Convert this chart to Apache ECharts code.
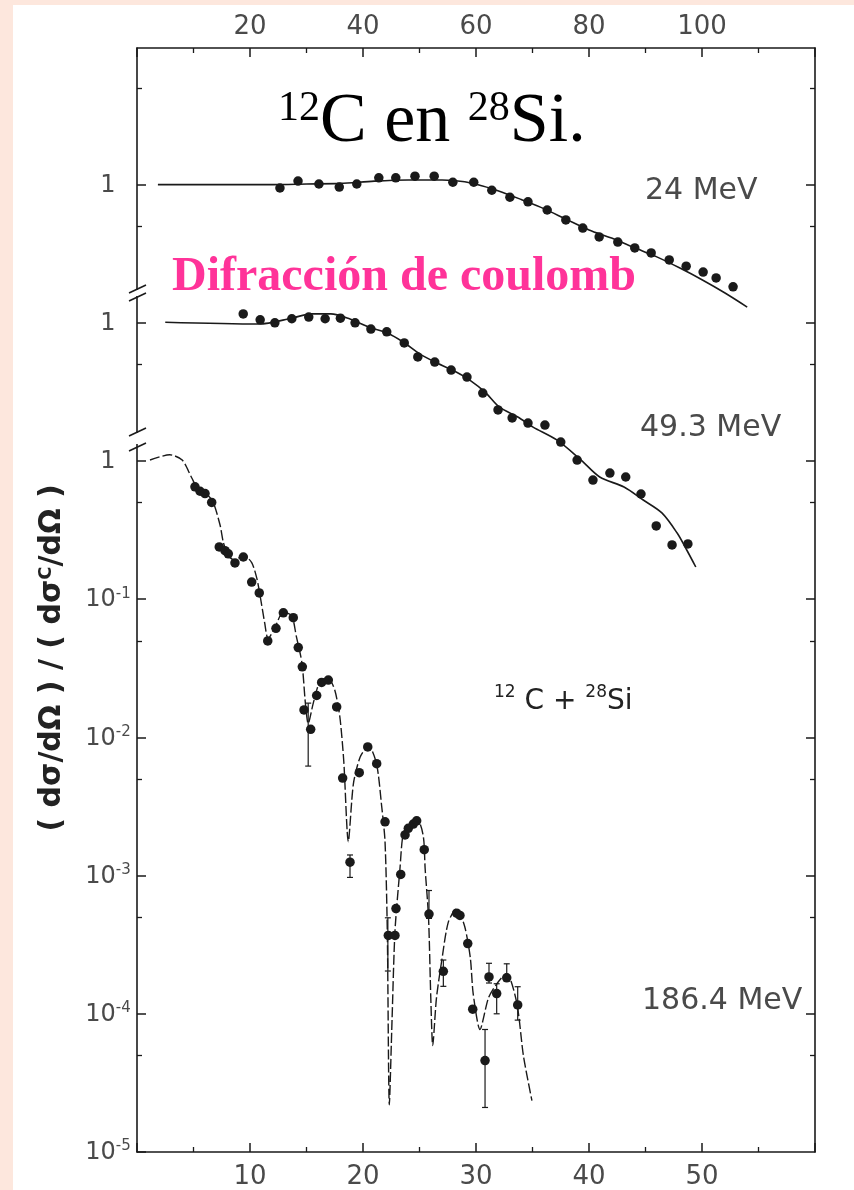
<!DOCTYPE html>
<html>
<head>
<meta charset="utf-8">
<title>12C en 28Si</title>
<script src="https://cdn.jsdelivr.net/npm/echarts@6/dist/echarts.min.js"></script>
<style>
  html, body { margin: 0; padding: 0; background: #fde7dd; }
  #chart { width: 854px; height: 1190px; }
</style>
</head>
<body>
<div id="chart"></div>
<script>
// 24 MeV (top angle scale), ratio to Rutherford
var curve24 = [[3.7, 1.0], [24, 1.0], [30, 1.01], [36, 1.02], [42, 1.06], [48, 1.08], [54, 1.08], [58, 1.05],
  [61, 0.98], [64, 0.9], [68, 0.78], [72, 0.67], [76, 0.56], [80, 0.47], [84, 0.41], [88, 0.35], [92, 0.30],
  [96, 0.25], [100, 0.205], [104, 0.165], [108, 0.13]]
var dots24 = [[25.3, 0.945], [28.5, 1.06], [32.2, 1.01], [35.8, 0.96], [38.9, 1.01], [42.8, 1.12], [45.8, 1.12],
  [49.2, 1.15], [52.6, 1.15], [55.9, 1.04], [59.6, 1.04], [62.8, 0.91], [66.0, 0.81], [69.2, 0.75], [72.6, 0.655],
  [75.9, 0.555], [78.9, 0.485], [81.8, 0.418], [85.1, 0.384], [88.1, 0.348], [91.0, 0.32], [94.2, 0.285],
  [97.2, 0.257], [100.2, 0.233], [102.5, 0.211], [105.5, 0.182]]

// 49.3 MeV (top angle scale)
var curve49 = [[5.0, 1.01], [21.6, 0.98], [27.4, 1.08], [30.8, 1.16], [34.3, 1.16], [37.7, 1.065], [41.1, 0.93],
  [44.4, 0.84], [47.1, 0.726], [50.1, 0.594], [53.1, 0.512], [56.5, 0.44], [58.9, 0.385], [61.6, 0.315],
  [64.1, 0.246], [67.4, 0.208], [70.1, 0.176], [74.3, 0.142], [78.6, 0.1015], [81.9, 0.0766], [86.2, 0.0648],
  [89.6, 0.0522], [92.9, 0.0421], [95.6, 0.0301], [97.3, 0.0227], [98.9, 0.0171]]
var dots49 = [[18.8, 1.16], [21.8, 1.05], [24.4, 1.0], [27.4, 1.07], [30.4, 1.10], [33.3, 1.07], [36.0, 1.08],
  [38.6, 1.0], [41.4, 0.90], [44.2, 0.86], [47.3, 0.715], [49.7, 0.566], [52.7, 0.52], [55.6, 0.455],
  [58.4, 0.405], [61.2, 0.31], [63.9, 0.234], [66.4, 0.205], [69.2, 0.188], [72.2, 0.182], [75.0, 0.137],
  [77.9, 0.1015], [80.7, 0.0728], [83.7, 0.0818], [86.5, 0.0766], [89.2, 0.0577], [91.9, 0.0339],
  [94.7, 0.0247], [97.5, 0.0251]]

// 186.4 MeV (bottom angle scale)
var curve186 = [[1.15, 1.017], [2.9, 1.11], [4.0, 1.017], [4.85, 0.753], [5.4, 0.627], [6.2, 0.573], [6.75, 0.501],
  [7.35, 0.344], [7.65, 0.256], [8.1, 0.205], [8.7, 0.191], [9.4, 0.209], [10.15, 0.184], [10.6, 0.142],
  [10.9, 0.1055], [11.3, 0.0673], [11.6, 0.0518], [12.2, 0.0624], [12.95, 0.081], [13.7, 0.0755], [14.1, 0.0538],
  [14.6, 0.0345], [14.9, 0.0177], [15.15, 0.0126], [15.6, 0.0177], [16.2, 0.0256], [16.9, 0.0269], [17.5, 0.022],
  [17.95, 0.0141], [18.3, 0.0067], [18.7, 0.00176], [19.15, 0.00461], [19.75, 0.00721], [20.5, 0.00869],
  [21.2, 0.00645], [21.65, 0.00319], [21.95, 0.00176], [22.15, 0.000397], [22.33, 0.000022], [22.57, 0.00009],
  [22.83, 0.000397], [23.27, 0.00112], [23.57, 0.00203], [24.15, 0.00236], [24.9, 0.00245], [25.35, 0.00189],
  [25.5, 0.00112], [25.8, 0.000496], [26.0, 0.00013], [26.17, 0.000059], [26.5, 0.00013], [26.95, 0.000237],
  [27.55, 0.000461], [28.3, 0.000577], [29.0, 0.000428], [29.5, 0.000253], [29.75, 0.00014], [30.35, 0.000077],
  [31.1, 0.00013], [31.8, 0.000163], [32.7, 0.000196], [33.6, 0.000121], [34.2, 0.0000495], [34.95, 0.0000235]]
var dots186 = [[5.13, 0.65], [5.58, 0.604], [6.02, 0.581], [6.61, 0.501], [7.28, 0.239], [7.79, 0.2245],
  [8.08, 0.213], [8.67, 0.183], [9.41, 0.202], [10.15, 0.133], [10.82, 0.111], [11.57, 0.0499], [12.3, 0.0615],
  [12.95, 0.0797], [13.83, 0.0735], [14.27, 0.0447], [14.63, 0.0324], [14.78, 0.0158], [15.37, 0.01145],
  [15.9, 0.0201], [16.34, 0.025], [16.93, 0.026], [17.67, 0.0166], [18.2, 0.00508], [18.85, 0.00125],
  [19.67, 0.00556], [20.42, 0.00853], [21.21, 0.00645], [21.95, 0.00245], [22.24, 0.000369], [22.83, 0.000369],
  [22.92, 0.000577], [23.34, 0.00102], [23.72, 0.00197], [24.01, 0.0022], [24.45, 0.00236], [24.75, 0.00249],
  [25.42, 0.00154], [25.84, 0.000527], [27.11, 0.000203], [28.29, 0.000535], [28.58, 0.000515], [29.27, 0.000322],
  [29.71, 0.000108], [30.8, 0.0000459], [31.15, 0.000185], [31.83, 0.00014], [32.72, 0.000182], [33.69, 0.000116]]
// [angle, low, high]
var errors186 = [[15.15, 0.0062, 0.0177], [18.85, 0.00097, 0.00141], [22.2, 0.000204, 0.000495],
  [25.84, 0.00049, 0.00078], [27.11, 0.000158, 0.000245], [30.8, 0.000021, 0.000077],
  [31.15, 0.000167, 0.000232], [31.83, 0.0001, 0.000165], [32.72, 0.00018, 0.00023], [33.69, 0.00009, 0.000157]]

// tick values (186.4 MeV axis scale unless noted)
var panelOne = [1]
var decades = [1, 0.1, 0.01, 0.001, 0.0001, 0.00001]
var rightMajor = [100, 10, 1, 0.1, 0.01, 0.001, 0.0001]
var halfDecades = [500, 50, 5, 0.5, 0.05, 0.005, 0.0005, 0.00005]

var ink = '#1a1a1a'
var grey = '#4a4a4a'
var labelFont = 'DejaVu Sans'

function decadeLabel (v) {
  var e = Math.round(Math.log(v) / Math.LN10)
  return e === 0 ? '{b|1}' : '{b|10}{s|' + e + '}'
}
var labelRich = {
  b: {fontSize: 24, fontFamily: labelFont, color: grey, lineHeight: 26, verticalAlign: 'bottom'},
  s: {fontSize: 15, fontFamily: labelFont, color: grey, lineHeight: 15, verticalAlign: 'top'}
}

function logAxis (min, max, position) {
  return {
    type: 'log',
    logBase: 10,
    min: min,
    max: max,
    position: position,
    splitLine: {show: false},
    axisLine: {show: false},
    axisTick: {show: false},
    axisLabel: {show: false}
  }
}

// every panel keeps the same decade size; they are shifted by whole decades
var yTop = logAxis(1e-7, 9.736, 'left')
yTop.axisTick = {show: true, inside: true, length: 9, customValues: panelOne, lineStyle: {color: ink, width: 1.5}}
yTop.axisLabel = {show: true, customValues: panelOne, formatter: decadeLabel, rich: labelRich, align: 'center', margin: 29}

var yMid = logAxis(1e-6, 97.36, 'left')
yMid.axisTick = {show: true, inside: true, length: 9, customValues: panelOne, lineStyle: {color: ink, width: 1.5}}
yMid.axisLabel = {show: true, customValues: panelOne, formatter: decadeLabel, rich: labelRich, align: 'center', margin: 29}

var yLow = logAxis(1e-5, 973.6, 'left')
yLow.axisLine = {show: true, lineStyle: {color: ink, width: 1.6}}
yLow.axisTick = {show: true, inside: true, length: 9, customValues: decades, lineStyle: {color: ink, width: 1.5}}
yLow.axisLabel = {show: true, customValues: decades, formatter: decadeLabel, rich: labelRich, align: 'center', margin: 29}

var yLeftMinor = logAxis(1e-5, 973.6, 'left')
yLeftMinor.axisTick = {show: true, inside: true, length: 5, customValues: halfDecades, lineStyle: {color: ink, width: 1.3}}

var yRight = logAxis(1e-5, 973.6, 'right')
yRight.axisLine = {show: true, lineStyle: {color: ink, width: 1.6}}
yRight.axisTick = {show: true, inside: true, length: 9, customValues: rightMajor, lineStyle: {color: ink, width: 1.5}}

var yRightMinor = logAxis(1e-5, 973.6, 'right')
yRightMinor.axisTick = {show: true, inside: true, length: 5, customValues: halfDecades, lineStyle: {color: ink, width: 1.3}}

function angleAxis (position, max, step) {
  return {
    type: 'value',
    position: position,
    min: 0,
    max: max,
    interval: step,
    axisLine: {show: true, onZero: false, lineStyle: {color: ink, width: 1.6}},
    axisTick: {show: true, inside: true, length: 9, lineStyle: {color: ink, width: 1.5}},
    minorTick: {show: true, splitNumber: 2, length: 5, lineStyle: {color: ink, width: 1.3}},
    splitLine: {show: false},
    axisLabel: {
      fontSize: 26,
      fontFamily: labelFont,
      color: grey,
      margin: position === 'top' ? 8 : 12,
      formatter: function (v) { return (v === 0 || v === max) ? '' : String(v) }
    }
  }
}

var chart = echarts.init(document.getElementById('chart'))
chart.setOption({
  backgroundColor: '#ffffff',
  animation: false,
  grid: {left: 137, right: 39, top: 48, bottom: 38},
  xAxis: [angleAxis('top', 120, 20), angleAxis('bottom', 60, 10)],
  yAxis: [yTop, yMid, yLow, yLeftMinor, yRight, yRightMinor],
  series: [
    {
      name: '24 MeV',
      type: 'line',
      xAxisIndex: 0,
      yAxisIndex: 0,
      data: curve24,
      smooth: 0.3,
      showSymbol: false,
      lineStyle: {color: ink, width: 1.6}
    },
    {
      name: '24 MeV datos',
      type: 'scatter',
      xAxisIndex: 0,
      yAxisIndex: 0,
      data: dots24,
      symbolSize: 9.5,
      itemStyle: {color: ink, opacity: 1}
    },
    {
      name: '49.3 MeV',
      type: 'line',
      xAxisIndex: 0,
      yAxisIndex: 1,
      data: curve49,
      smooth: 0.3,
      showSymbol: false,
      lineStyle: {color: ink, width: 1.6}
    },
    {
      name: '49.3 MeV datos',
      type: 'scatter',
      xAxisIndex: 0,
      yAxisIndex: 1,
      data: dots49,
      symbolSize: 9.5,
      itemStyle: {color: ink, opacity: 1}
    },
    {
      name: '186.4 MeV',
      type: 'line',
      xAxisIndex: 1,
      yAxisIndex: 2,
      data: curve186,
      smooth: 0.25,
      showSymbol: false,
      lineStyle: {color: ink, width: 1.4, type: [10, 3]}
    },
    {
      name: '186.4 MeV errores',
      type: 'custom',
      xAxisIndex: 1,
      yAxisIndex: 2,
      data: errors186,
      encode: {x: 0, y: [1, 2]},
      renderItem: function (params, api) {
        var lo = api.coord([api.value(0), api.value(1)])
        var hi = api.coord([api.value(0), api.value(2)])
        var st = {stroke: ink, lineWidth: 1.2}
        return {
          type: 'group',
          children: [
            {type: 'line', shape: {x1: lo[0], y1: lo[1], x2: hi[0], y2: hi[1]}, style: st},
            {type: 'line', shape: {x1: lo[0] - 3, y1: lo[1], x2: lo[0] + 3, y2: lo[1]}, style: st},
            {type: 'line', shape: {x1: hi[0] - 3, y1: hi[1], x2: hi[0] + 3, y2: hi[1]}, style: st}
          ]
        }
      }
    },
    {
      name: '186.4 MeV datos',
      type: 'scatter',
      xAxisIndex: 1,
      yAxisIndex: 2,
      data: dots186,
      symbolSize: 9.5,
      itemStyle: {color: ink, opacity: 1}
    }
  ],
  graphic: [
    // page frame
    {type: 'rect', shape: {x: 0, y: 0, width: 854, height: 5}, style: {fill: '#fde7dd'}, z: 100},
    {type: 'rect', shape: {x: 0, y: 0, width: 13, height: 1190}, style: {fill: '#fde7dd'}, z: 100},
    // axis breaks on the left spine
    {type: 'rect', shape: {x: 133, y: 290, width: 9, height: 6}, style: {fill: '#ffffff'}, z: 100},
    {type: 'line', shape: {x1: 129, y1: 293, x2: 146, y2: 285}, style: {stroke: ink, lineWidth: 1.6}, z: 101},
    {type: 'line', shape: {x1: 129, y1: 301, x2: 146, y2: 293}, style: {stroke: ink, lineWidth: 1.6}, z: 101},
    {type: 'rect', shape: {x: 133, y: 433, width: 9, height: 11}, style: {fill: '#ffffff'}, z: 100},
    {type: 'line', shape: {x1: 129, y1: 436, x2: 146, y2: 428}, style: {stroke: ink, lineWidth: 1.6}, z: 101},
    {type: 'line', shape: {x1: 129, y1: 451, x2: 146, y2: 443}, style: {stroke: ink, lineWidth: 1.6}, z: 101},
    // titles and annotations
    {
      type: 'text', x: 278, y: 88, z: 102,
      style: {
        text: '{s|12}{b|C en }{s|28}{b|Si.}',
        rich: {
          b: {fontSize: 70, fontFamily: 'Liberation Serif', fill: '#000', lineHeight: 70, verticalAlign: 'bottom'},
          s: {fontSize: 42, fontFamily: 'Liberation Serif', fill: '#000', lineHeight: 42, verticalAlign: 'top'}
        }
      }
    },
    {
      type: 'text', x: 172, y: 278, z: 102,
      style: {
        text: 'Difracción de coulomb',
        fontSize: 48, fontWeight: 'bold', fontFamily: 'Liberation Serif',
        fill: '#ff3399', verticalAlign: 'middle'
      }
    },
    {type: 'text', x: 645, y: 191, z: 102, style: {text: '24 MeV', fontSize: 30, fontFamily: labelFont, fill: grey, verticalAlign: 'middle'}},
    {type: 'text', x: 640, y: 428, z: 102, style: {text: '49.3 MeV', fontSize: 30, fontFamily: labelFont, fill: grey, verticalAlign: 'middle'}},
    {type: 'text', x: 642, y: 1001, z: 102, style: {text: '186.4 MeV', fontSize: 30, fontFamily: labelFont, fill: grey, verticalAlign: 'middle'}},
    {
      type: 'text', x: 494, y: 684, z: 102,
      style: {
        text: '{s|12}{b| C + }{s|28}{b|Si}',
        rich: {
          b: {fontSize: 28, fontFamily: labelFont, fill: '#222', lineHeight: 32, verticalAlign: 'bottom'},
          s: {fontSize: 17, fontFamily: labelFont, fill: '#222', lineHeight: 17, verticalAlign: 'top'}
        }
      }
    },
    {
      type: 'text', x: 52, y: 658, rotation: Math.PI / 2, z: 102,
      style: {
        text: '( dσ/dΩ ) / ( dσ{s|C}/dΩ )',
        fontSize: 30, fontWeight: 'bold', fontFamily: labelFont, fill: '#222',
        align: 'center', verticalAlign: 'middle',
        rich: {
          s: {fontSize: 18, fontWeight: 'bold', fontFamily: labelFont, fill: '#222', verticalAlign: 'top', lineHeight: 18}
        }
      }
    }
  ]
})
</script>
</body>
</html>
